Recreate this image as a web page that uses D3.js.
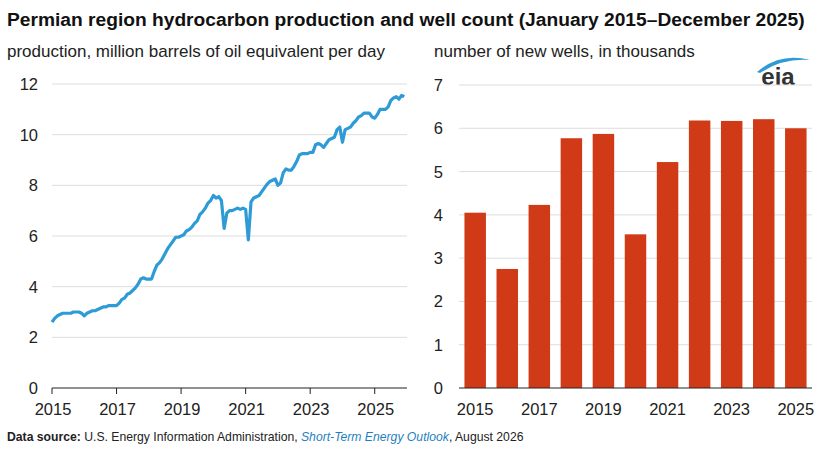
<!DOCTYPE html>
<html><head><meta charset="utf-8">
<script src="https://cdn.jsdelivr.net/npm/d3@7"></script>
<style>body{margin:0;background:#fff;font-family:Arial,"Liberation Sans",sans-serif}</style>
</head><body><svg id="c" width="827" height="463"></svg>
<script>
const prodByYear = {
2015:[2.6,2.75,2.85,2.9,2.95,2.95,2.95,2.95,3.0,3.0,3.0,2.95],
2016:[2.85,2.95,3.0,3.05,3.05,3.1,3.15,3.2,3.2,3.25,3.25,3.25],
2017:[3.25,3.35,3.5,3.55,3.7,3.75,3.85,3.95,4.1,4.3,4.35,4.3],
2018:[4.3,4.3,4.6,4.85,4.95,5.1,5.3,5.5,5.65,5.8,5.95,5.95],
2019:[6.0,6.05,6.2,6.25,6.35,6.5,6.6,6.85,6.95,7.1,7.3,7.4],
2020:[7.6,7.5,7.55,7.4,6.3,6.9,7.0,7.0,7.05,7.1,7.05,7.1],
2021:[7.05,5.85,7.35,7.5,7.55,7.6,7.75,7.9,8.05,8.15,8.2,8.25],
2022:[8.0,8.1,8.5,8.65,8.6,8.6,8.75,8.95,9.2,9.25,9.25,9.25],
2023:[9.3,9.3,9.6,9.65,9.6,9.5,9.65,9.8,9.85,9.9,10.2,10.3],
2024:[9.7,10.2,10.25,10.3,10.45,10.55,10.7,10.75,10.85,10.85,10.85,10.7],
2025:[10.65,10.8,11.0,11.0,11.0,11.1,11.35,11.45,11.5,11.4,11.55,11.5]};
const wellYears = [2015,2016,2017,2018,2019,2020,2021,2022,2023,2024,2025];
const wellValues = [4.05,2.75,4.23,5.77,5.87,3.55,5.22,6.18,6.17,6.21,6.0];
const yearTicks = [2015,2017,2019,2021,2023,2025];
const prodTicks = [0,2,4,6,8,10,12];
const wellTicks = [0,1,2,3,4,5,6,7];

const prod = [];
Object.keys(prodByYear).forEach(y=>prodByYear[y].forEach((v,i)=>prod.push({t:+y+i/12,v})));

const svg = d3.select("#c");
const txt=(x,y,s,o={})=>svg.append("text").attr("x",x).attr("y",y).text(s)
  .attr("font-size",o.fs||15).attr("fill",o.fill||"#222").attr("font-weight",o.fw||"normal")
  .attr("text-anchor",o.a||"start");
txt(7,26,"Permian region hydrocarbon production and well count (January 2015–December 2025)",{fs:19.2,fw:"bold",fill:"#111"});
txt(7,57,"production, million barrels of oil equivalent per day",{fs:17});
txt(434,57,"number of new wells, in thousands",{fs:17});
const foot = svg.append("text").attr("x",7).attr("y",441).attr("font-size",12.2).attr("fill","#222");
foot.append("tspan").attr("font-weight","bold").text("Data source: ");
foot.append("tspan").text("U.S. Energy Information Administration, ");
foot.append("tspan").attr("fill","#1f7fc1").attr("font-style","italic").text("Short-Term Energy Outlook");
foot.append("tspan").text(", August 2026");

// eia logo
svg.append("text").attr("x",778).attr("y",85).attr("font-size",24).attr("font-weight","bold").attr("fill","#333").attr("text-anchor","middle").text("eia");
svg.append("path").attr("d","M757,72 Q780,52 810,60 Q782,58 760,73Z").attr("fill","#2e9bd6");

// left
const x1 = d3.scaleLinear().domain([2015,2026]).range([52,407]);
const y1 = d3.scaleLinear().domain([0,12]).range([388,84]);
prodTicks.forEach(t=>{
  if(t>0) svg.append("line").attr("x1",52).attr("x2",407).attr("y1",y1(t)).attr("y2",y1(t)).attr("stroke","#ddd").attr("stroke-width",1);
  txt(38,y1(t)+6,t,{a:"end",fs:16.5});
});
svg.append("line").attr("x1",52).attr("x2",407).attr("y1",388).attr("y2",388).attr("stroke","#222");
yearTicks.forEach(t=>{
  svg.append("line").attr("x1",x1(t)).attr("x2",x1(t)).attr("y1",388).attr("y2",394).attr("stroke","#222");
  txt(x1(t)+1,415,t,{a:"middle",fs:16.5});
});
svg.append("path").datum(prod).attr("fill","none").attr("stroke","#2e9bd6").attr("stroke-width",3.2)
  .attr("stroke-linejoin","round").attr("d",d3.line().x(d=>x1(d.t)).y(d=>y1(d.v)));

// right
const x2 = d3.scaleBand().domain(wellYears).range([459,812]).paddingInner(0.33).paddingOuter(0.17);
const y2 = d3.scaleLinear().domain([0,7]).range([388,85]);
wellTicks.forEach(t=>{
  if(t>0) svg.append("line").attr("x1",459).attr("x2",812).attr("y1",y2(t)).attr("y2",y2(t)).attr("stroke","#ddd");
  txt(443,y2(t)+6,t,{a:"end",fs:16.5});
});
svg.selectAll("rect.b").data(wellValues).enter().append("rect")
  .attr("x",(d,i)=>x2(wellYears[i])).attr("width",x2.bandwidth())
  .attr("y",d=>y2(d)).attr("height",d=>388-y2(d)).attr("fill","#d13a16");
svg.append("line").attr("x1",459).attr("x2",812).attr("y1",388).attr("y2",388).attr("stroke","#222");
yearTicks.forEach(t=>txt(x2(t)+x2.bandwidth()/2,415,t,{a:"middle",fs:16.5}));
</script></body></html>
